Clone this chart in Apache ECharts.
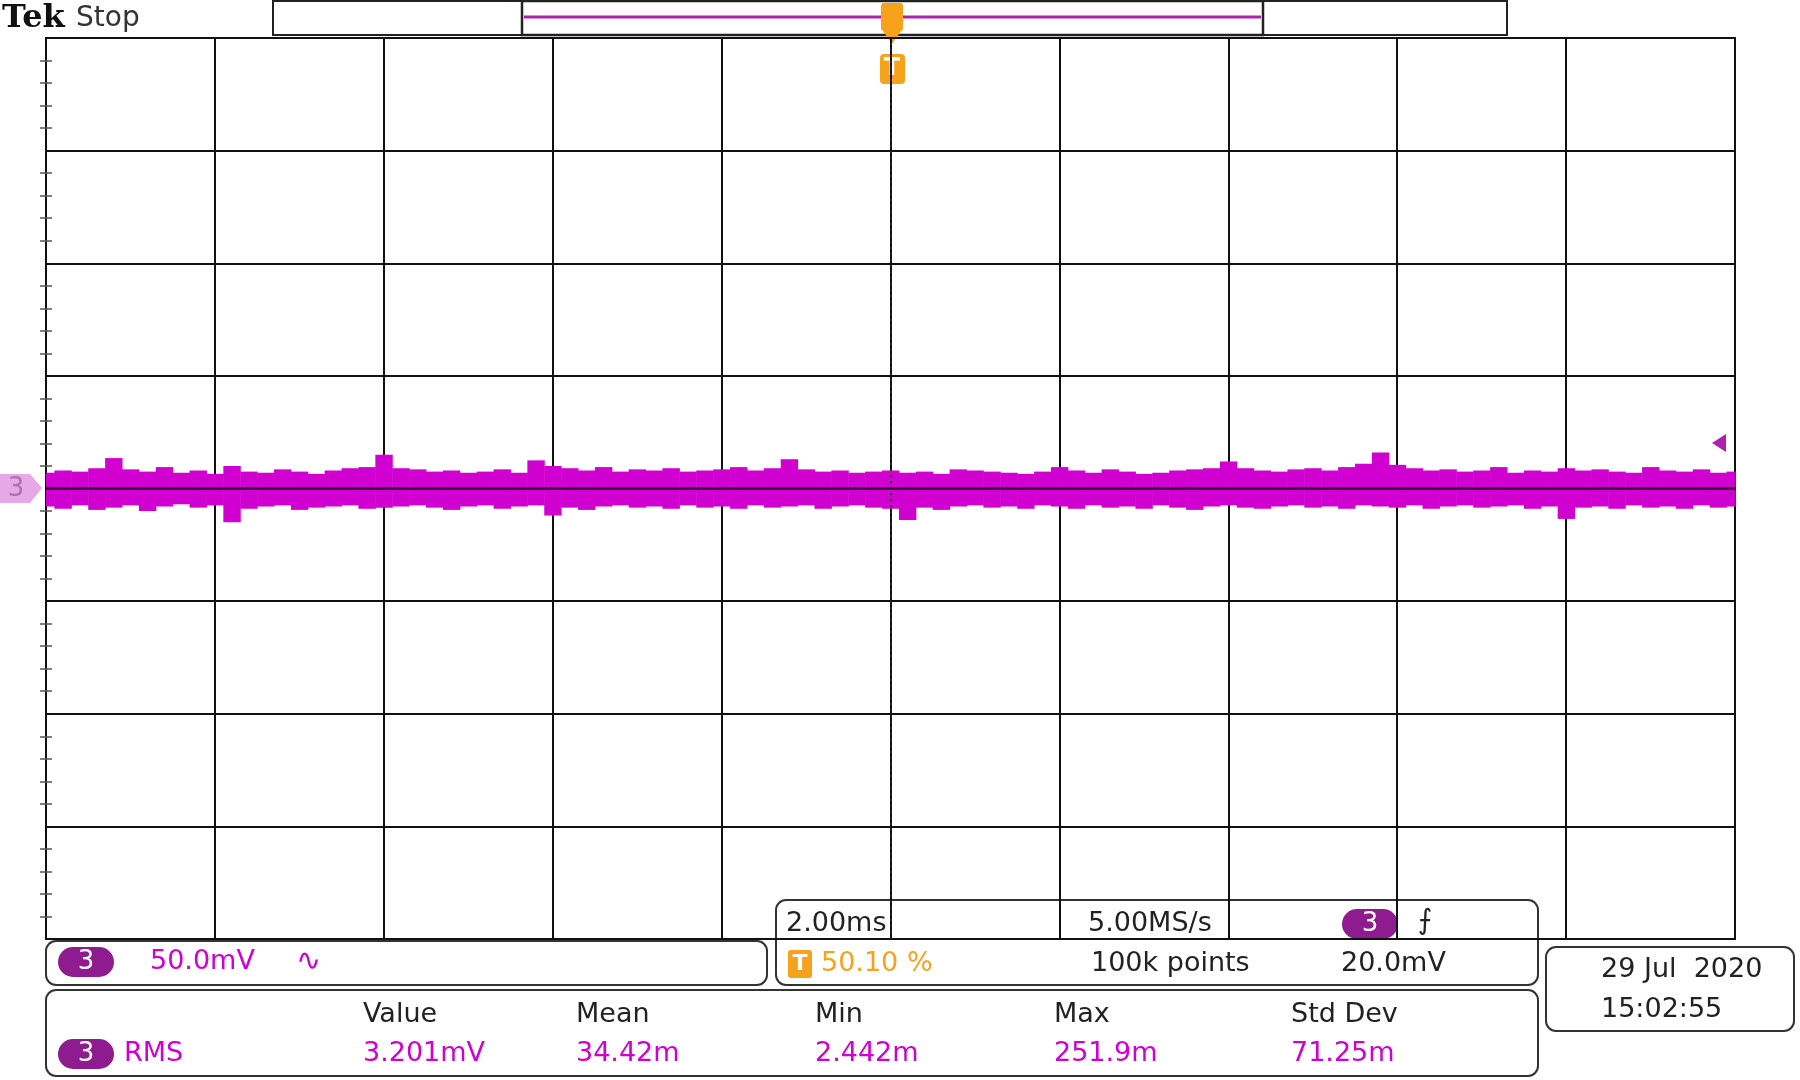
<!doctype html>
<html>
<head>
<meta charset="utf-8">
<title>Tek scope capture</title>
<script src="https://cdn.jsdelivr.net/npm/echarts@6/dist/echarts.min.js"></script>
<style>html,body{margin:0;background:#fff}#app{width:1800px;height:1080px}</style>
</head>
<body>
<div id="app"></div>
<script>
// 时间轴位置（格，0..10，每0.1格一个点）
const xDiv = Array.from({ length: 101 }, (_, i) => +(i / 10).toFixed(1));
// 噪声包络上沿（格）
const upper = [
  0.14, 0.16, 0.15, 0.18, 0.27, 0.17, 0.15, 0.19, 0.14, 0.16,
  0.13, 0.20, 0.15, 0.14, 0.17, 0.15, 0.13, 0.16, 0.18, 0.19,
  0.30, 0.18, 0.17, 0.15, 0.16, 0.14, 0.15, 0.17, 0.14, 0.25,
  0.20, 0.18, 0.16, 0.19, 0.15, 0.17, 0.16, 0.18, 0.15, 0.16,
  0.17, 0.19, 0.16, 0.18, 0.26, 0.17, 0.15, 0.16, 0.14, 0.15,
  0.16, 0.14, 0.15, 0.13, 0.17, 0.16, 0.15, 0.14, 0.13, 0.15,
  0.19, 0.16, 0.14, 0.17, 0.15, 0.13, 0.14, 0.16, 0.17, 0.18,
  0.24, 0.18, 0.16, 0.15, 0.17, 0.18, 0.16, 0.19, 0.22, 0.32,
  0.21, 0.18, 0.16, 0.17, 0.15, 0.16, 0.19, 0.14, 0.16, 0.15,
  0.18, 0.16, 0.17, 0.15, 0.14, 0.19, 0.16, 0.15, 0.17, 0.14, 0.15
];
// 噪声包络下沿（格）
const lower = [
  -0.16, -0.18, -0.15, -0.19, -0.17, -0.15, -0.20, -0.16, -0.14, -0.17,
  -0.15, -0.30, -0.18, -0.16, -0.15, -0.19, -0.17, -0.16, -0.15, -0.18,
  -0.17, -0.16, -0.15, -0.17, -0.19, -0.16, -0.15, -0.18, -0.16, -0.15,
  -0.24, -0.17, -0.19, -0.16, -0.15, -0.17, -0.16, -0.18, -0.15, -0.17,
  -0.16, -0.18, -0.15, -0.17, -0.16, -0.15, -0.18, -0.16, -0.15, -0.17,
  -0.18, -0.28, -0.17, -0.19, -0.16, -0.15, -0.17, -0.16, -0.18, -0.15,
  -0.16, -0.18, -0.15, -0.17, -0.16, -0.18, -0.15, -0.17, -0.19, -0.16,
  -0.15, -0.17, -0.18, -0.16, -0.15, -0.17, -0.16, -0.18, -0.15, -0.16,
  -0.17, -0.15, -0.18, -0.16, -0.15, -0.17, -0.16, -0.15, -0.18, -0.16,
  -0.27, -0.17, -0.16, -0.18, -0.15, -0.17, -0.16, -0.18, -0.15, -0.17, -0.16
];
// 测量栏
const measHeaders = ["Value", "Mean", "Min", "Max", "Std Dev"];
const measValues = ["3.201mV", "34.42m", "2.442m", "251.9m", "71.25m"];
const measX = [363, 576, 815, 1054, 1291];

const MAG = "#d000d0"; // 通道3颜色
const PURP = "#8e1c8e"; // 徽标底色
const ORANGE = "#f7a21b"; // 触发颜色
const FONT = "DejaVu Sans";

const G = { left: 46, top: 38, width: 1689, height: 901 }; // 网格区域

const chart = echarts.init(document.getElementById("app"), null, { renderer: "canvas" });

function txt(x, y, s, color, size, extra) {
  return Object.assign({ type: "text", x, y, style: { text: s, fill: color || "#222", font: (size || 27) + "px " + FONT, textVerticalAlign: "middle" } }, extra || {});
}
function badge(x, y) {
  return [
    { type: "rect", shape: { x: x - 28, y: y - 15, width: 56, height: 30, r: 15 }, style: { fill: PURP } },
    { type: "text", x: x, y: y, style: { text: "3", fill: "#fff", font: "26px " + FONT, textAlign: "center", textVerticalAlign: "middle" } }
  ];
}
function box(x, y, w, h) {
  return { type: "rect", shape: { x, y, width: w, height: h, r: 10 }, style: { fill: "#fff", stroke: "#333", lineWidth: 2 } };
}

const axisCommon = {
  type: "value",
  interval: 1,
  axisLabel: { show: false },
  axisLine: { show: false },
  axisTick: { show: false },
  minorTick: { show: true, splitNumber: 5, length: 6, lineStyle: { color: "#555", width: 1.5 } },
  splitLine: { show: true, lineStyle: { color: "#111", width: 2 } }
};

const graphics = [
  // 顶部记录条
  { type: "rect", shape: { x: 273, y: 1, width: 1234, height: 34 }, style: { fill: "#fff", stroke: "#222", lineWidth: 2 } },
  { type: "rect", shape: { x: 522, y: 1, width: 741, height: 34 }, style: { fill: "#fff", stroke: "#222", lineWidth: 2.5 } },
  { type: "line", shape: { x1: 524, y1: 17, x2: 1261, y2: 17 }, style: { stroke: "#b020b0", lineWidth: 3 } },
  { type: "text", x: 2, y: 19, style: { text: "Tek", fill: "#111", font: "bold 32px 'DejaVu Serif'", textVerticalAlign: "middle" } },
  txt(76, 19, "Stop", "#333", 28),
  // 触发位置标记
  { type: "rect", shape: { x: 881, y: 3, width: 22, height: 28, r: 3 }, style: { fill: ORANGE } },
  { type: "polygon", shape: { points: [[883, 31], [901, 31], [892, 44]] }, style: { fill: ORANGE } },
  { type: "rect", shape: { x: 880, y: 54, width: 25, height: 30, r: 4 }, style: { fill: ORANGE } },
  { type: "text", x: 892, y: 69, style: { text: "T", fill: "#fff", font: "bold 24px " + FONT, textAlign: "center", textVerticalAlign: "middle" } },
  // 通道3接地标记
  { type: "polygon", shape: { points: [[0, 474], [30, 474], [42, 488], [30, 503], [0, 503]] }, style: { fill: "#e6a8e6" } },
  { type: "text", x: 16, y: 489, style: { text: "3", fill: "#b070b0", font: "26px " + FONT, textAlign: "center", textVerticalAlign: "middle" } },
  // 触发电平箭头
  { type: "polygon", shape: { points: [[1712, 443], [1726, 434], [1726, 452]] }, style: { fill: "#b020b0" } },
  // 通道栏
  box(46, 941, 721, 44),
  ...badge(86, 962),
  txt(150, 962, "50.0mV", MAG),
  txt(296, 962, "∿", MAG, 30),
  // 时基栏
  box(776, 900, 762, 85),
  txt(786, 924, "2.00ms", "#222"),
  txt(1088, 924, "5.00MS/s", "#222"),
  ...badge(1370, 924),
  txt(1418, 922, "⨍", "#222", 28),
  { type: "rect", shape: { x: 788, y: 950, width: 24, height: 28, r: 3 }, style: { fill: ORANGE } },
  { type: "text", x: 800, y: 964, style: { text: "T", fill: "#fff", font: "bold 22px " + FONT, textAlign: "center", textVerticalAlign: "middle" } },
  txt(821, 964, "50.10 %", ORANGE),
  txt(1091, 964, "100k points", "#222"),
  txt(1341, 964, "20.0mV", "#222"),
  // 测量栏
  box(46, 990, 1492, 86),
  ...badge(86, 1054),
  txt(124, 1054, "RMS", MAG),
  // 日期栏
  box(1546, 947, 248, 84),
  txt(1601, 970, "29 Jul  2020", "#222"),
  txt(1601, 1010, "15:02:55", "#222")
];
measHeaders.forEach((h, i) => graphics.push(txt(measX[i], 1015, h, "#222")));
measValues.forEach((v, i) => graphics.push(txt(measX[i], 1054, v, MAG)));

// 噪声带：每个采样区间画一个竖条（上沿→下沿）
const bandData = xDiv.map((x, i) => [x, upper[i], lower[i]]);

const option = {
  backgroundColor: "#fff",
  animation: false,
  grid: Object.assign({ containLabel: false, show: true, borderColor: "#111", borderWidth: 2 }, G),
  xAxis: [
    Object.assign({}, axisCommon, { min: 0, max: 10, position: "bottom" }),
    Object.assign({}, axisCommon, { min: 0, max: 10, position: "top", splitLine: { show: false } })
  ],
  yAxis: [
    Object.assign({}, axisCommon, { min: -4, max: 4, position: "left" }),
    Object.assign({}, axisCommon, { min: -4, max: 4, position: "right", splitLine: { show: false } })
  ],
  series: [
    {
      type: "custom", name: "CH3", data: bandData, z: 3,
      encode: { x: 0, y: [1, 2] },
      renderItem: function (params, api) {
        const x = api.value(0);
        const x0 = Math.max(0, x - 0.05), x1 = Math.min(10, x + 0.05);
        const p0 = api.coord([x0, api.value(1)]);
        const p1 = api.coord([x1, api.value(2)]);
        return {
          type: "rect",
          shape: { x: p0[0], y: p0[1], width: p1[0] - p0[0] + 0.5, height: p1[1] - p0[1] },
          style: { fill: MAG }
        };
      }
    },
    {
      type: "line", name: "center", data: [[0, 0], [10, 0]], symbol: "none",
      lineStyle: { color: "#3a003a", width: 2.5 }, z: 4,
      markLine: {
        silent: true, symbol: "none", label: { show: false },
        lineStyle: { color: "#222", type: [2, 4], width: 2 },
        data: [{ xAxis: 5 }]
      }
    }
  ],
  graphic: graphics
};
chart.setOption(option);
</script>
</body>
</html>
